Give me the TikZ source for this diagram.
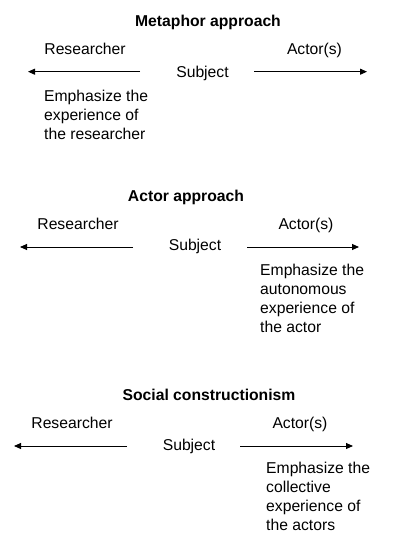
\documentclass[tikz,border=0pt]{standalone}
\usepackage{fontspec}
\setmainfont{Liberation Sans}
\usetikzlibrary{arrows.meta}
\begin{document}
\begin{tikzpicture}[x=1pt,y=-1pt,
  lbl/.style={inner sep=0pt,anchor=base,font=\fontsize{15.7}{19}\selectfont},
  ttl/.style={lbl,font=\fontsize{15.7}{19}\selectfont\bfseries},
  desc/.style={inner sep=0pt,anchor=north west,align=left,font=\fontsize{15.7}{19}\selectfont},
  arr/.style={line width=0.9pt,-{Triangle[length=7pt,width=6pt]}}]
\useasboundingbox[fill=white] (0,0) rectangle (403,533);
% Panel 1
\node[ttl] (t1) at (208,26.7) {Metaphor approach};
\node[lbl] (r1) at (85,54) {Researcher};
\node[lbl] (a1) at (314.5,54) {Actor(s)};
\node[lbl] (s1) at (202.5,77) {Subject};
\coordinate (l1s) at (140,71.7); \coordinate (l1e) at (28,71.7);
\coordinate (r1s) at (254,71.7); \coordinate (r1e) at (367,71.7);
\draw[arr] (l1s) -- (l1e);
\draw[arr] (r1s) -- (r1e);
\node[desc] (e1) at (44,90) {Emphasize the\\experience of\\the researcher};
% Panel 2
\node[ttl] (t2) at (186,201.7) {Actor approach};
\node[lbl] (r2) at (78,229) {Researcher};
\node[lbl] (a2) at (306,229) {Actor(s)};
\node[lbl] (s2) at (195,250.7) {Subject};
\coordinate (l2s) at (133,247); \coordinate (l2e) at (20,247);
\coordinate (r2s) at (247,247); \coordinate (r2e) at (359,247);
\draw[arr] (l2s) -- (l2e);
\draw[arr] (r2s) -- (r2e);
\node[desc] (e2) at (260,264) {Emphasize the\\autonomous\\experience of\\the actor};
% Panel 3
\node[ttl] (t3) at (209,400) {Social constructionism};
\node[lbl] (r3) at (72,428) {Researcher};
\node[lbl] (a3) at (300,428) {Actor(s)};
\node[lbl] (s3) at (189,450) {Subject};
\coordinate (l3s) at (127,446); \coordinate (l3e) at (14,446);
\coordinate (r3s) at (240,446); \coordinate (r3e) at (353,446);
\draw[arr] (l3s) -- (l3e);
\draw[arr] (r3s) -- (r3e);
\node[desc] (e3) at (266,461.7) {Emphasize the\\collective\\experience of\\the actors};
\end{tikzpicture}
\end{document}
